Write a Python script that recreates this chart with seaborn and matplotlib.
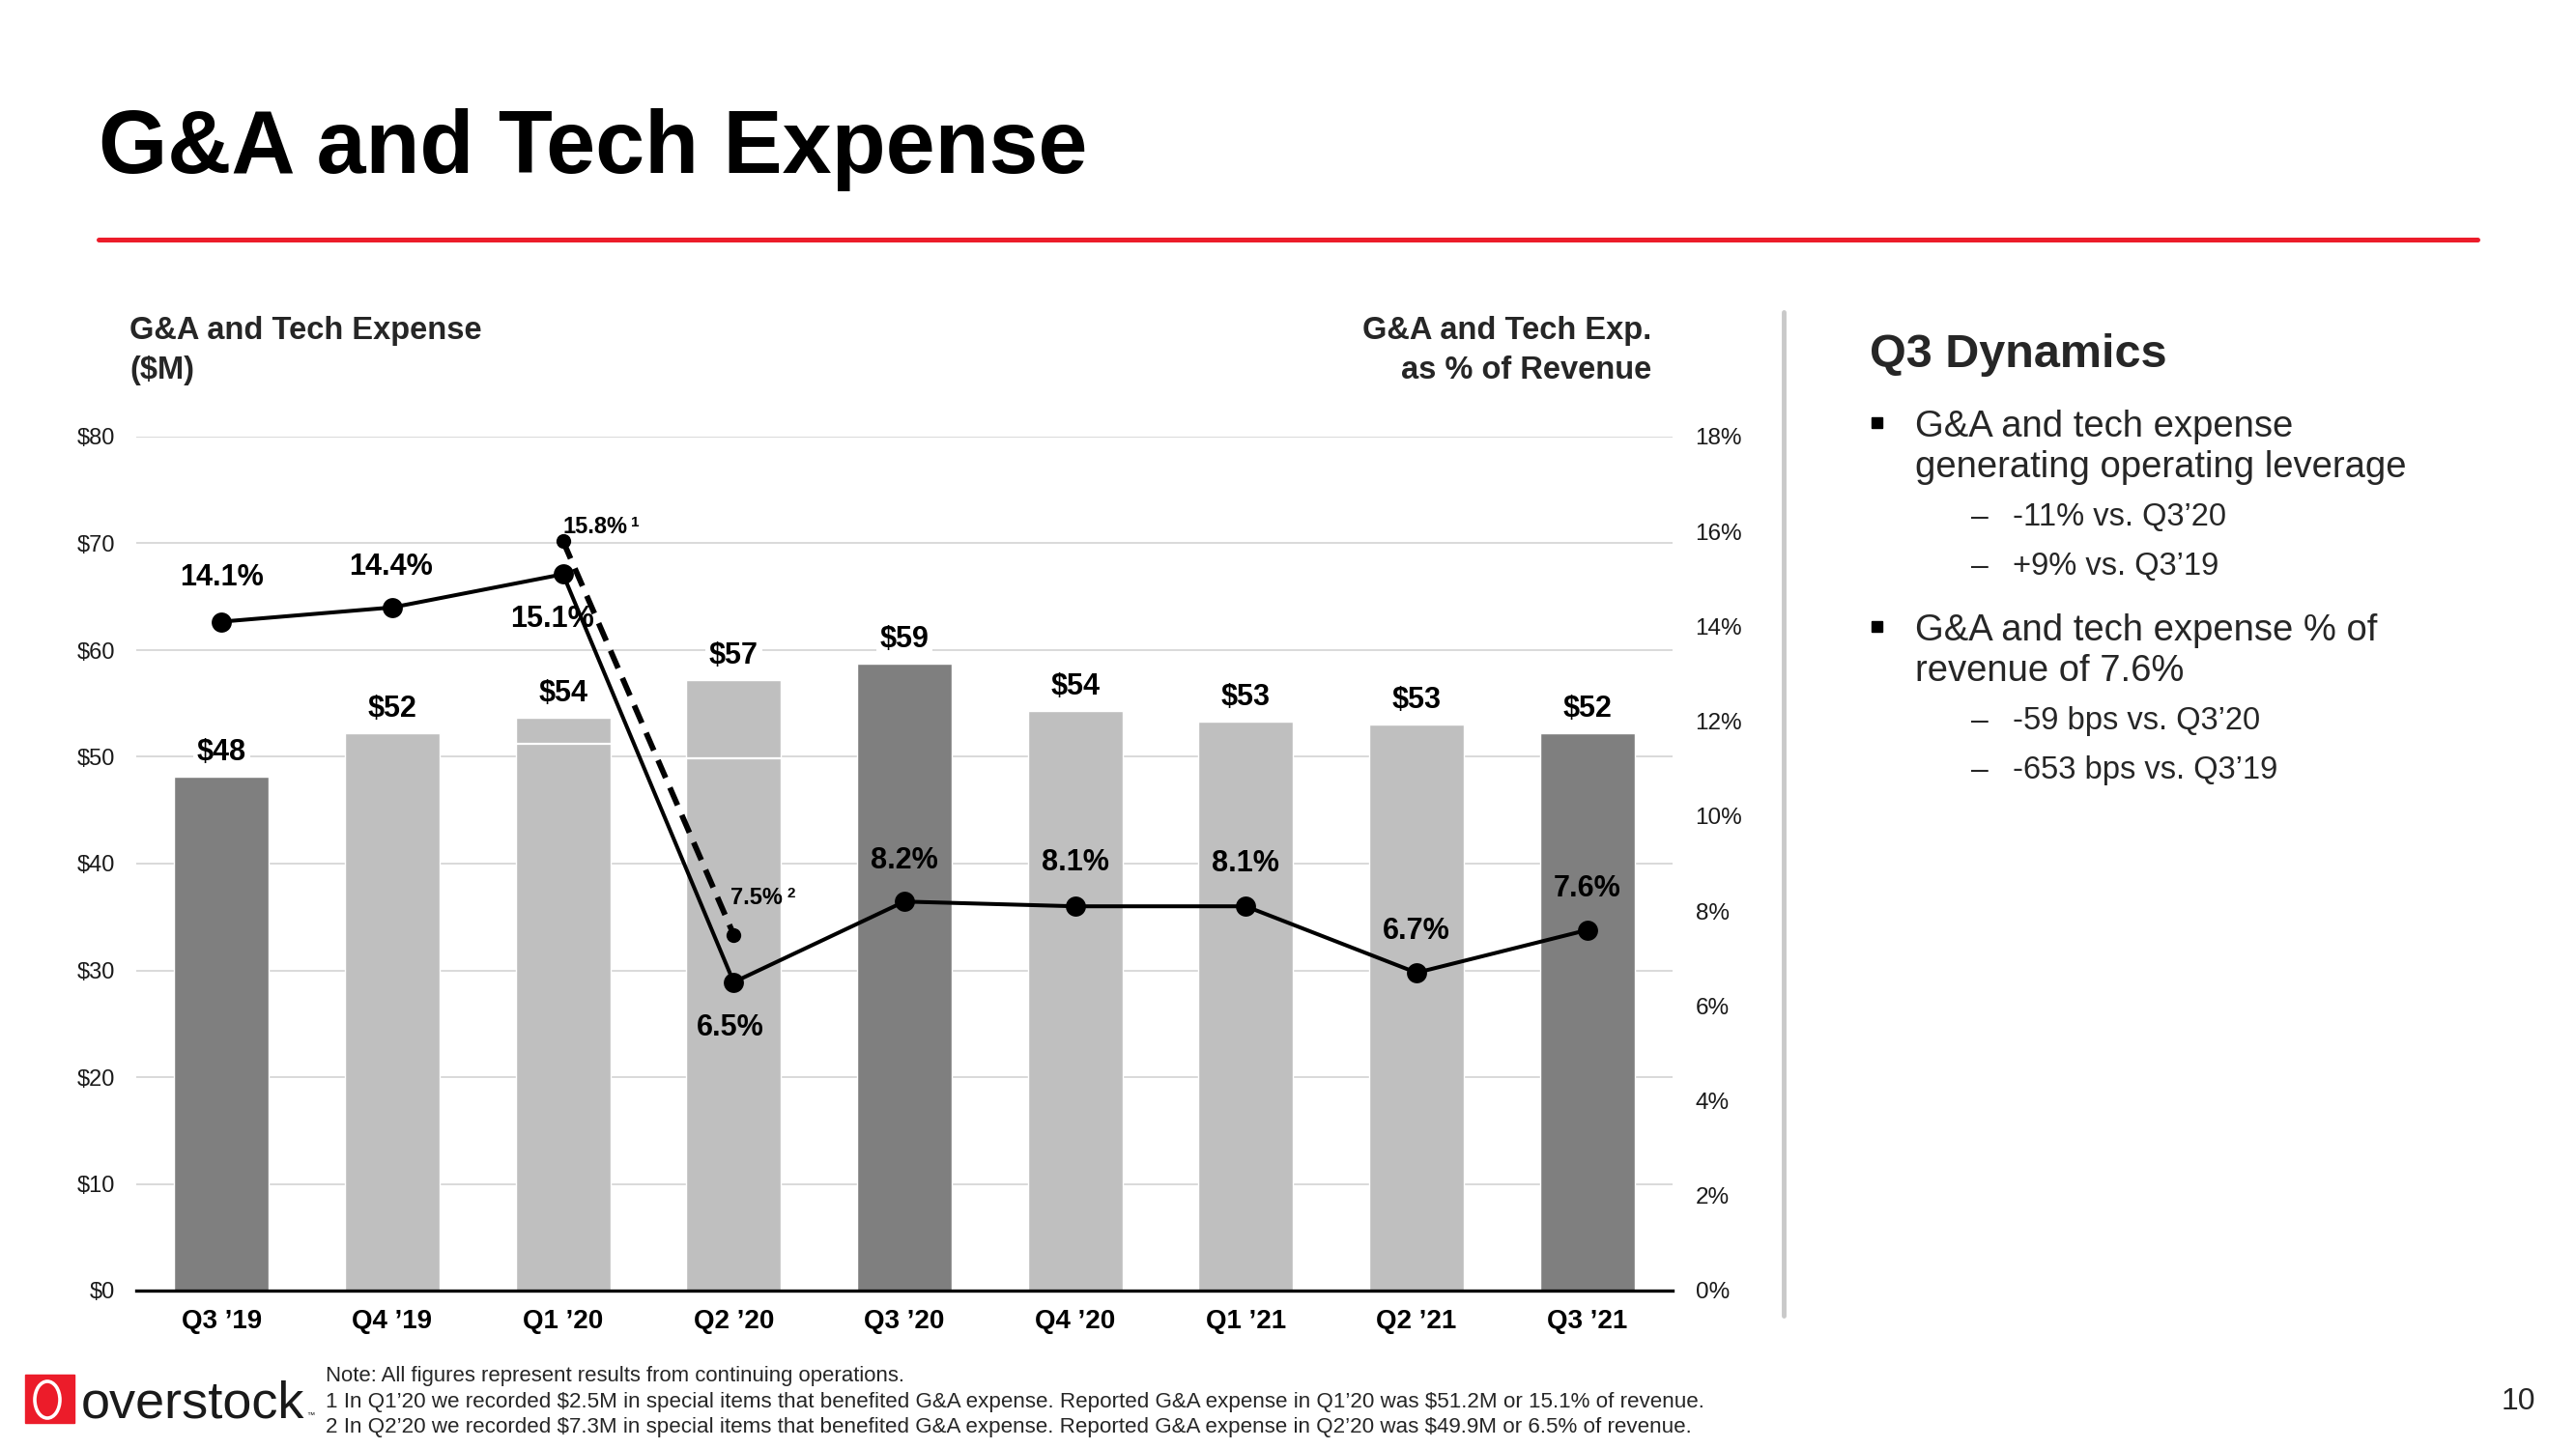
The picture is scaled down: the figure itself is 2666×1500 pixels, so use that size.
import matplotlib
matplotlib.use("Agg")
import matplotlib.pyplot as plt
import seaborn as sns
import numpy as np
import pandas as pd
from matplotlib.patches import Rectangle, Ellipse
from matplotlib.lines import Line2D

# ---------------- data ----------------
quarters = ["Q3 \u201919", "Q4 \u201919", "Q1 \u201920", "Q2 \u201920", "Q3 \u201920",
            "Q4 \u201920", "Q1 \u201921", "Q2 \u201921", "Q3 \u201921"]
expense = [48.1, 52.2, 53.7, 57.2, 58.7, 54.3, 53.3, 53.0, 52.2]          # $M
reported_quarters = ["Q1 \u201920", "Q2 \u201920"]
reported_expense = [51.2, 49.9]                                            # $M (reported)
pct_revenue = [14.1, 14.4, 15.1, 6.5, 8.2, 8.1, 8.1, 6.7, 7.6]             # %
adj_quarters = ["Q1 \u201920", "Q2 \u201920"]
adj_pct = [15.8, 7.5]                                                       # % excl. special items
adj_notes = ["1", "2"]
left_ticks = [0, 10, 20, 30, 40, 50, 60, 70, 80]
right_ticks = [0, 2, 4, 6, 8, 10, 12, 14, 16, 18]

# ---------------- style ----------------
sns.set_theme(style="white")
plt.rcParams["font.family"] = ["Liberation Sans", "DejaVu Sans"]
plt.rcParams["text.parse_math"] = False

W, H = 2666, 1500
PX = 72 / 100.0  # points per pixel at dpi 100
DARK, LIGHT = "#7F7F7F", "#BFBFBF"
RED = "#EC1C2A"

fig = plt.figure(figsize=(W / 100, H / 100), dpi=100)
fig.patch.set_facecolor("white")

def fx(x):
    return x / W

def fy(y):
    return 1 - y / H

def ftext(x, y, s, **kw):
    return fig.text(fx(x), fy(y), s, parse_math=False, **kw)

# axes
ax = fig.add_axes([fx(141), fy(1336), (1731 - 141) / W, (1336 - 452) / H])

df = pd.DataFrame({"quarter": quarters, "expense": expense})
palette = {q: (DARK if q.startswith("Q3") else LIGHT) for q in quarters}
sns.barplot(data=df, x="quarter", y="expense", hue="quarter", palette=palette,
            legend=False, width=0.555, saturation=1, ax=ax, zorder=2)

ax.set_ylim(0, 80)
ax.set_xlim(-0.5, len(quarters) - 0.5)
ax.set_yticks(left_ticks)
ax.set_yticklabels([f"${t}" for t in left_ticks], fontsize=17, color="#1a1a1a")
ax.set_xlabel("")
ax.set_ylabel("")
ax.tick_params(axis="y", length=0, pad=16)
ax.tick_params(axis="x", length=0, pad=14)
for lab in ax.get_xticklabels():
    lab.set_fontsize(20)
    lab.set_fontweight("bold")
    lab.set_color("black")
ax.yaxis.grid(True, color="#D9D9D9", linewidth=1.4)
ax.set_axisbelow(True)
for s in ["top", "right", "left"]:
    ax.spines[s].set_visible(False)
ax.spines["bottom"].set_color("black")
ax.spines["bottom"].set_linewidth(2.4)
ax.spines["bottom"].set_zorder(5)

# bar value labels + reported-value white lines
patches = sorted(ax.patches, key=lambda p: p.get_x())
for p, v in zip(patches, expense):
    cx = p.get_x() + p.get_width() / 2
    ax.annotate(f"${v:.0f}", (cx, p.get_height()), xytext=(0, 25 * PX),
                textcoords="offset points", ha="center", va="center",
                fontsize=22, fontweight="bold", color="black",
                bbox=dict(boxstyle="square,pad=0.12", fc="white", ec="none"), zorder=4)
for q, rv in zip(reported_quarters, reported_expense):
    p = patches[quarters.index(q)]
    ax.hlines(rv, p.get_x(), p.get_x() + p.get_width(), colors="white",
              linewidth=1.6, zorder=3)

# line axis
ax2 = ax.twinx()
ax2.set_ylim(0, 18)
xs = np.arange(len(quarters))
sns.lineplot(x=xs, y=pct_revenue, ax=ax2, color="black", linewidth=2.9,
             marker="o", markersize=15, markeredgewidth=0, zorder=5)
adj_x = [quarters.index(q) for q in adj_quarters]
ax2.plot(adj_x, adj_pct, color="black", linewidth=4.2, dashes=(3.4, 1.9),
         marker="o", markersize=11, markeredgewidth=0, zorder=6)
ax.set_xlim(-0.5, len(quarters) - 0.5)
ax2.set_yticks(right_ticks)
ax2.set_yticklabels([f"{t}%" for t in right_ticks], fontsize=17.5, color="#1a1a1a")
ax2.tick_params(axis="y", length=0, pad=17)
ax2.set_ylabel("")
for s in ax2.spines.values():
    s.set_visible(False)
ax2.grid(False)

label_offsets = [(0, 46), (-2, 42), (-11, -47), (-4, -47), (0, 42),
                 (0, 45), (0, 44), (0, 43), (0, 43)]
for i, (p, (dx, dy)) in enumerate(zip(pct_revenue, label_offsets)):
    ax2.annotate(f"{p:.1f}%", (i, p), xytext=(dx * PX, dy * PX),
                 textcoords="offset points", ha="center", va="center",
                 fontsize=22, fontweight="bold", color="black", zorder=7)
adj_offsets = [(33, 15), (24, 38)]
for xi, p, note, (dx, dy) in zip(adj_x, adj_pct, adj_notes, adj_offsets):
    t = ax2.annotate(f"{p:.1f}%", (xi, p), xytext=(dx * PX, dy * PX),
                     textcoords="offset points", ha="center", va="center",
                     fontsize=17, fontweight="bold", color="black", zorder=7)
    ax2.annotate(note, xy=(1, 1), xycoords=t, xytext=(4 * PX, 0),
                 textcoords="offset points", ha="left", va="top",
                 fontsize=11, fontweight="bold", color="black", zorder=7)

# ---------------- page decorations ----------------
ftext(102, 179, "G&A and Tech Expense", fontsize=66, fontweight="bold",
      color="black", ha="left", va="baseline")
fig.add_artist(Line2D([fx(102), fx(2564)], [fy(248), fy(248)], color=RED, linewidth=3.6))

ftext(134, 351, "G&A and Tech Expense", fontsize=23.5, fontweight="bold", ha="left", va="baseline")
ftext(134, 392, "($M)", fontsize=23.5, fontweight="bold", ha="left", va="baseline")
ftext(1709, 351, "G&A and Tech Exp.", fontsize=23.5, fontweight="bold", ha="right", va="baseline")
ftext(1709, 392, "as % of Revenue", fontsize=23.5, fontweight="bold", ha="right", va="baseline")

fig.add_artist(Line2D([fx(1846), fx(1846)], [fy(323), fy(1362)], color="#C9C9C9", linewidth=3.5))

# right panel
ftext(1935, 380, "Q3 Dynamics", fontsize=35, fontweight="bold", ha="left", va="baseline")
bullet_lines = [
    (452, ["G&A and tech expense", "generating operating leverage"],
     ["-11% vs. Q3\u201920", "+9% vs. Q3\u201919"]),
    (663, ["G&A and tech expense % of", "revenue of 7.6%"],
     ["-59 bps vs. Q3\u201920", "-653 bps vs. Q3\u201919"]),
]
for y0, lines, subs in bullet_lines:
    fig.add_artist(Rectangle((fx(1937), fy(y0 - 9)), 11 / W, 11 / H,
                             transform=fig.transFigure, color="black"))
    for k, ln in enumerate(lines):
        ftext(1982, y0 + 42.5 * k, ln, fontsize=27.5, ha="left", va="baseline")
    for k, sb in enumerate(subs):
        yy = y0 + 92 + 51 * k
        ftext(2040, yy, "\u2013", fontsize=23, ha="left", va="baseline")
        ftext(2083, yy, sb, fontsize=23.5, ha="left", va="baseline")

# footer
fig.add_artist(Rectangle((fx(26), fy(1473)), 51 / W, 50 / H,
                         transform=fig.transFigure, color=RED))
fig.add_artist(Ellipse((fx(49), fy(1449)), 26 / W, 38 / H, transform=fig.transFigure,
                       fill=False, edgecolor="white", linewidth=2.6))
ftext(84, 1467, "overstock", fontsize=39, color="#1a1a1a", ha="left", va="baseline")
ftext(317, 1467, "\u2122", fontsize=6, color="#1a1a1a", ha="left", va="baseline")
ftext(337, 1430, "Note: All figures represent results from continuing operations.",
      fontsize=15.9, ha="left", va="baseline")
ftext(337, 1457, "1 In Q1\u201920 we recorded $2.5M in special items that benefited G&A expense. "
      "Reported G&A expense in Q1\u201920 was $51.2M or 15.1% of revenue.",
      fontsize=16.1, ha="left", va="baseline")
ftext(337, 1483, "2 In Q2\u201920 we recorded $7.3M in special items that benefited G&A expense. "
      "Reported G&A expense in Q2\u201920 was $49.9M or 6.5% of revenue.",
      fontsize=16.1, ha="left", va="baseline")
ftext(2606, 1459, "10", fontsize=23, ha="center", va="baseline")

fig.savefig("out.png", dpi=100, facecolor="white")
